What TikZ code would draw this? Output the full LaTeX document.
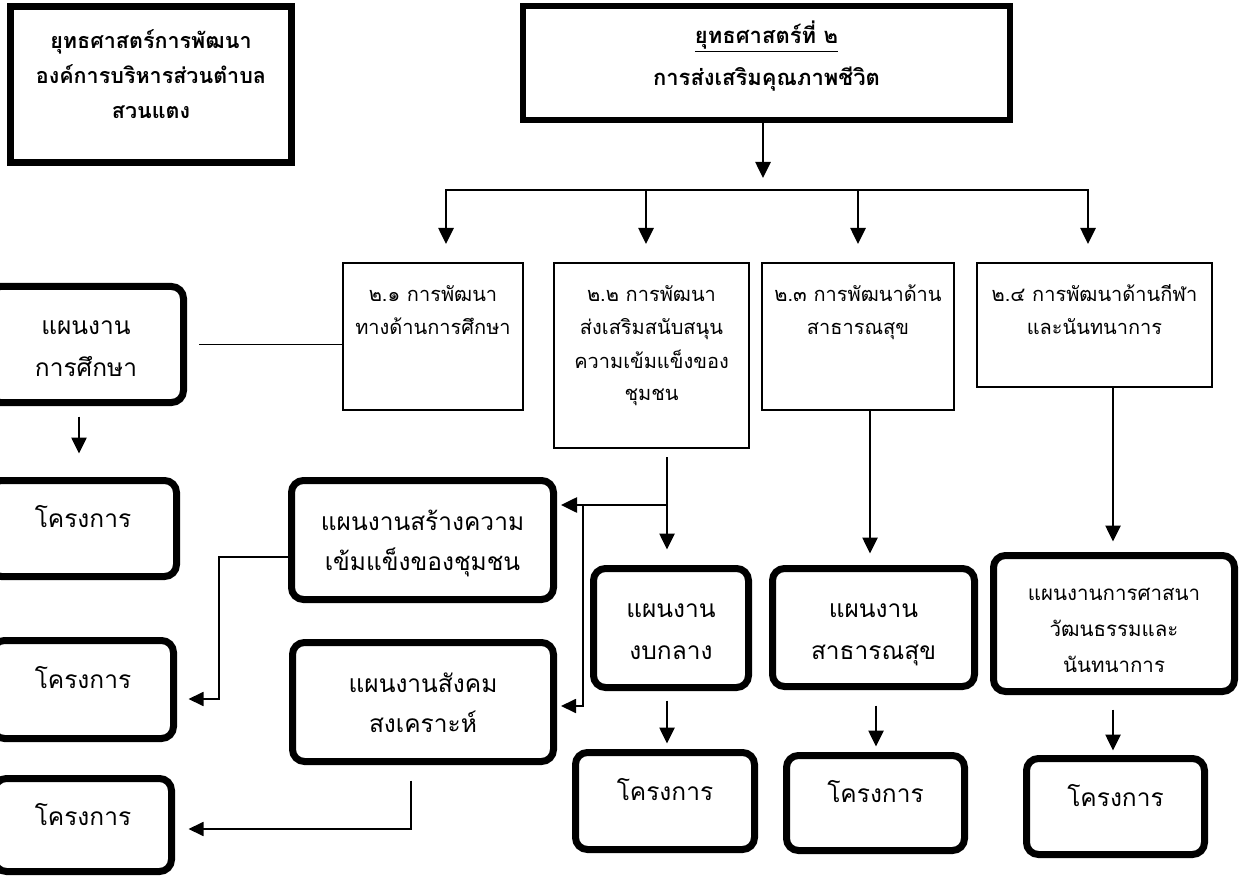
\documentclass[tikz,border=0pt]{standalone}
\usepackage{fontspec}
\newfontfamily\thai[Script=Thai]{Loma}
\usetikzlibrary{arrows.meta}
\newcommand{\tbox}[4]{\parbox[c][#2pt][t]{#1pt}{\centering\rule{0pt}{#3pt}#4\par}}
\tikzset{
  head/.style={draw, line width=7pt, inner sep=0pt, font={\thai\bfseries\fontsize{21.5}{35}\selectfont}},
  subbox/.style={draw, line width=2pt, inner sep=0pt, font={\thai\fontsize{20}{33}\selectfont}},
  plan/.style={draw, line width=7pt, rounded corners=12pt, inner sep=0pt, font={\thai\fontsize{24.5}{40}\selectfont}},
  arr/.style={line width=2.6pt, -{Triangle[width=15pt,length=16pt]}},
  thinarr/.style={line width=1.8pt, -{Triangle[width=14pt,length=15pt]}},
  thinline/.style={line width=1.8pt},
  barline/.style={line width=2.6pt, line cap=rect}
}
\begin{document}
\begin{tikzpicture}[x=1pt,y=-1pt]
\useasboundingbox (0,0) rectangle (1240,877);
\clip (0,0) rectangle (1240,877);
% headers
\node[head] (tl) at (151,84.5) {\tbox{281}{156}{42.5}{ยุทธศาสตร์การพัฒนา\\องค์การบริหารส่วนตำบล\\สวนแตง}};
\node[head, line width=6pt, font={\thai\bfseries\fontsize{22}{42}\selectfont}] (top) at (766.5,63) {\tbox{487}{114}{38}{\underline{ยุทธศาสตร์ที่ ๒}\\การส่งเสริมคุณภาพชีวิต}};
% sub strategies
\node[subbox] (s1) at (433,336.5) {\tbox{180}{147}{39}{๒.๑ การพัฒนา\\ทางด้านการศึกษา}};
\node[subbox] (s2) at (651.5,355.5) {\tbox{195}{185}{39}{๒.๒ การพัฒนา\\ส่งเสริมสนับสนุน\\ความเข้มแข็งของ\\ชุมชน}};
\node[subbox] (s3) at (858,336.5) {\tbox{192}{147}{39}{๒.๓ การพัฒนาด้าน\\สาธารณสุข}};
\node[subbox] (s4) at (1094.5,325) {\tbox{235}{124}{39}{๒.๔ การพัฒนาด้านกีฬา\\และนันทนาการ}};
% plans
\node[plan, font={\thai\fontsize{24.5}{42}\selectfont}] (p1) at (86,344.5) {\tbox{195}{116}{48.5}{แผนงาน\\การศึกษา}};
\node[plan] (sr) at (422.5,540) {\tbox{262}{119}{49.5}{แผนงานสร้างความ\\เข้มแข็งของชุมชน}};
\node[plan] (sk) at (423,702) {\tbox{261}{119}{49.5}{แผนงานสังคม\\สงเคราะห์}};
\node[plan, font={\thai\fontsize{24.5}{42}\selectfont}] (gk) at (671,628) {\tbox{155}{119}{48.5}{แผนงาน\\งบกลาง}};
\node[plan, font={\thai\fontsize{24.5}{42}\selectfont}] (ss) at (873.5,627.5) {\tbox{202}{118}{48.5}{แผนงาน\\สาธารณสุข}};
\node[plan, font={\thai\fontsize{20.5}{36}\selectfont}] (sn) at (1114,623.5) {\tbox{241}{136}{44.5}{แผนงานการศาสนา\\วัฒนธรรมและ\\นันทนาการ}};
% projects
\node[plan] (pk1) at (83,528.5) {\tbox{187}{96}{46.5}{โครงการ}};
\node[plan] (pk2) at (83,689.5) {\tbox{181}{98}{47.5}{โครงการ}};
\node[plan] (pk3) at (83,825) {\tbox{177}{93}{46.5}{โครงการ}};
\node[plan] (pkg) at (665,801) {\tbox{179}{97}{47.5}{โครงการ}};
\node[plan] (pks) at (875.5,803) {\tbox{178}{95}{46.5}{โครงการ}};
\node[plan] (pkn) at (1115.5,806.5) {\tbox{178}{96}{47.5}{โครงการ}};
% helper coordinates
\coordinate (t0) at (763,178);
\coordinate (b1) at (446,190);
\coordinate (b2) at (646,190);
\coordinate (b3) at (858,190);
\coordinate (b4) at (1088,190);
\coordinate (v2) at (667,505);
\coordinate (v3) at (583,505);
\coordinate (c1) at (219,557);
\coordinate (c2) at (411,829);
\coordinate (x870) at (870,0);
\coordinate (x876) at (876,0);
\coordinate (x1113) at (1113,0);
\coordinate (x79) at (79,0);
% connectors
\draw[arr] (top.south -| t0) -- (t0);
\draw[barline] (b1) -- (b4);
\draw[arr, shorten >=18pt] (b1) -- (b1 |- s1.north);
\draw[arr, shorten >=18pt] (b2) -- (b2 |- s2.north);
\draw[arr, shorten >=18pt] (b3) -- (b3 |- s3.north);
\draw[arr, shorten >=18pt] (b4) -- (b4 |- s4.north);
\draw[thinline, shorten >=11.5pt] (s1.west |- p1.east) -- (p1.east);
\draw[arr, shorten <=10.5pt, shorten >=23.5pt] (p1.south -| x79) -- (pk1.north -| x79);
\draw[arr, shorten <=8pt, shorten >=15.5pt] (s2.south -| v2) -- (gk.north -| v2);
\draw[arr, shorten >=4pt] (v2) -- (sr.east |- v2);
\draw[thinarr, shorten >=4pt] (v3) |- ([yshift=-4pt]sk.east);
\draw[thinarr, shorten >=11.5pt] (sr.west |- c1) -- (c1) |- ([yshift=-9.5pt]pk2.east);
\draw[thinarr, shorten <=15.5pt, shorten >=13.5pt] (sk.south -| c2) -- (c2) -- (c2 -| pk3.east);
\draw[arr, shorten <=9.5pt, shorten >=5.5pt] (gk.south -| v2) -- (pkg.north -| v2);
\draw[arr, shorten >=11.5pt] (s3.south -| x870) -- (ss.north -| x870);
\draw[arr, shorten <=15.5pt, shorten >=5.5pt] (ss.south -| x876) -- (pks.north -| x876);
\draw[arr, shorten >=10.5pt] (s4.south -| x1113) -- (sn.north -| x1113);
\draw[arr, shorten <=14.5pt, shorten >=4.5pt] (sn.south -| x1113) -- (pkn.north -| x1113);
\end{tikzpicture}
\end{document}
